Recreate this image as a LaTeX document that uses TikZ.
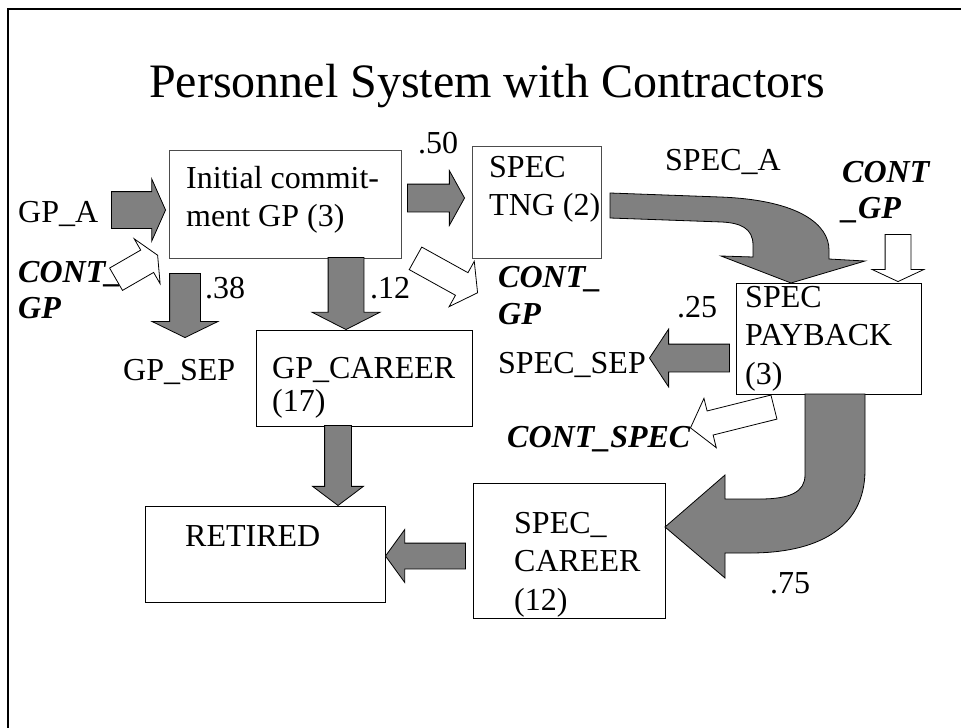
\documentclass[tikz,border=0pt]{standalone}
\usepackage{fontspec}
\setmainfont{Liberation Serif}
\usetikzlibrary{shapes.arrows,positioning}

\begin{document}
\begin{tikzpicture}[x=1pt,y=-1pt,
  font=\fontsize{32}{38.5}\selectfont,
  state/.style={rectangle,draw,inner sep=0pt,outer sep=0pt,line width=1pt},
  txt/.style={inner sep=0pt,anchor=north west,align=left},
  lbl/.style={inner sep=0pt,anchor=base west},
  cont/.style={txt,font=\fontsize{32}{37}\selectfont\bfseries\itshape},
  flow/.style={single arrow,draw,fill=gray,line width=.8pt,inner sep=0pt,anchor=tip},
  inflow/.style={flow,fill=white},
  size/.style n args={4}{minimum height=#1pt,inner ysep=#2pt,
    single arrow head extend=#3pt,single arrow tip angle=#4}]
    \useasboundingbox (0,0) rectangle (961,728);
    % frame and title
    \draw[line width=2pt] (8,728) -- (8,9) -- (961,9);
    \node[anchor=base,font=\fontsize{48}{56}\selectfont] (title) at (487,97)
      {Personnel System with Contractors};
    % states
    \node[state,draw=black!70,minimum width=232pt,minimum height=108pt] (init) at (285,204) {};
    \node[state,draw=black!70,minimum width=129pt,minimum height=112pt] (tng) at (536.5,202) {};
    \node[state,minimum width=185pt,minimum height=111pt] (payback) at (828.5,338.5) {};
    \node[state,minimum width=216pt,minimum height=96pt] (gpcareer) at (364,378) {};
    \node[state,minimum width=240pt,minimum height=96pt] (retired) at (265,554) {};
    \node[state,minimum width=192pt,minimum height=135pt] (spcareer) at (569,550.5) {};
    % state texts
    \node[txt] (inittext) at (186,166) {Initial commit-\\ment GP (3)};
    \node[txt] (tngtext) at (489,156) {SPEC\\TNG (2)};
    \node[txt] (paybacktext) at (745,286) {SPEC\\PAYBACK\\(3)};
    \node[txt,font=\fontsize{32}{33}\selectfont] (gpcareertext) at (272,357) {GP\_CAREER\\(17)};
    \node[lbl] (retiredtext) at (185,546) {RETIRED};
    \node[txt] (spcareertext) at (514,512) {SPEC\_\\CAREER\\(12)};
    % sources, sinks and rates
    \node[lbl] (gpa) at (18,222) {GP\_A};
    \node[lbl] (speca) at (665,170) {SPEC\_A};
    \node[lbl] (gpsep) at (123,380) {GP\_SEP};
    \node[lbl] (specsep) at (498,373) {SPEC\_SEP};
    \node[lbl] (r50) at (418,153) {.50};
    \node[lbl] (r38) at (205,298) {.38};
    \node[lbl] (r12) at (370,298) {.12};
    \node[lbl] (r25) at (677,317) {.25};
    \node[lbl] (r75) at (770,593) {.75};
    \node[cont,font=\fontsize{32}{36}\selectfont\bfseries\itshape] (contgpa) at (18,261) {CONT\_\\GP};
    \node[cont] (contgpb) at (498,266) {CONT\_\\GP};
    \node[cont,font=\fontsize{32}{36}\selectfont\bfseries\itshape] (contgpc) at (842,161) {CONT\\\_GP};
    \node[lbl,font=\fontsize{32}{37}\selectfont\bfseries\itshape] (contspec) at (507,447) {CONT\_SPEC};
    % flows
    \node[flow,size={54}{18}{12.5}{132}] (fgpa) at (166,210) {};
    \node[flow,size={57}{13.5}{13.5}{122}] (ftng) at (465,198) {};
    \node[flow,size={64}{15}{17.5}{128},rotate=-90] (fgpsep) at (185,338) {};
    \node[flow,size={72}{17.5}{16}{126},rotate=-90] (fgpcar) at (346,330) {};
    \node[flow,size={80}{13}{12}{106},rotate=-90] (fret1) at (338,506) {};
    \node[flow,size={80}{12.5}{13.5}{108},rotate=180] (fret2) at (385,556) {};
    \node[flow,size={80}{13.5}{15}{113},rotate=180] (fspsep) at (649,358) {};
    \node[inflow,size={48}{12.5}{13}{130},rotate=30] (fcont1) at (158,255) {};
    \node[inflow,size={71}{12.5}{13}{110},rotate=-29] (fcont2) at (478,293) {};
    \node[inflow,size={47}{12.5}{13}{130},rotate=-90] (fcont3) at (898,282) {};
    \node[inflow,size={86}{12}{13}{103},rotate=194] (fcont4) at (690,428) {};
    % bent flows
    \draw[fill=gray,line width=.8pt] (610,193) -- (720,197)
      .. controls (800,200) and (829,225) .. (829,250) -- (829,259)
      -- (865,261) -- (791,283) -- (721,256) -- (753,257) -- (753,245)
      .. controls (753,228) and (740,223) .. (722,222) -- (610,218) -- cycle;
    \draw[fill=gray,line width=.8pt] (805,394) -- (805,475)
      .. controls (805,492) and (790,499) .. (760,499) -- (725,499)
      -- (725,475) -- (665,527) -- (725,578) -- (725,553) -- (750,553)
      .. controls (815,553) and (865,530) .. (865,470) -- (865,394) -- cycle;
\end{tikzpicture}
\end{document}
